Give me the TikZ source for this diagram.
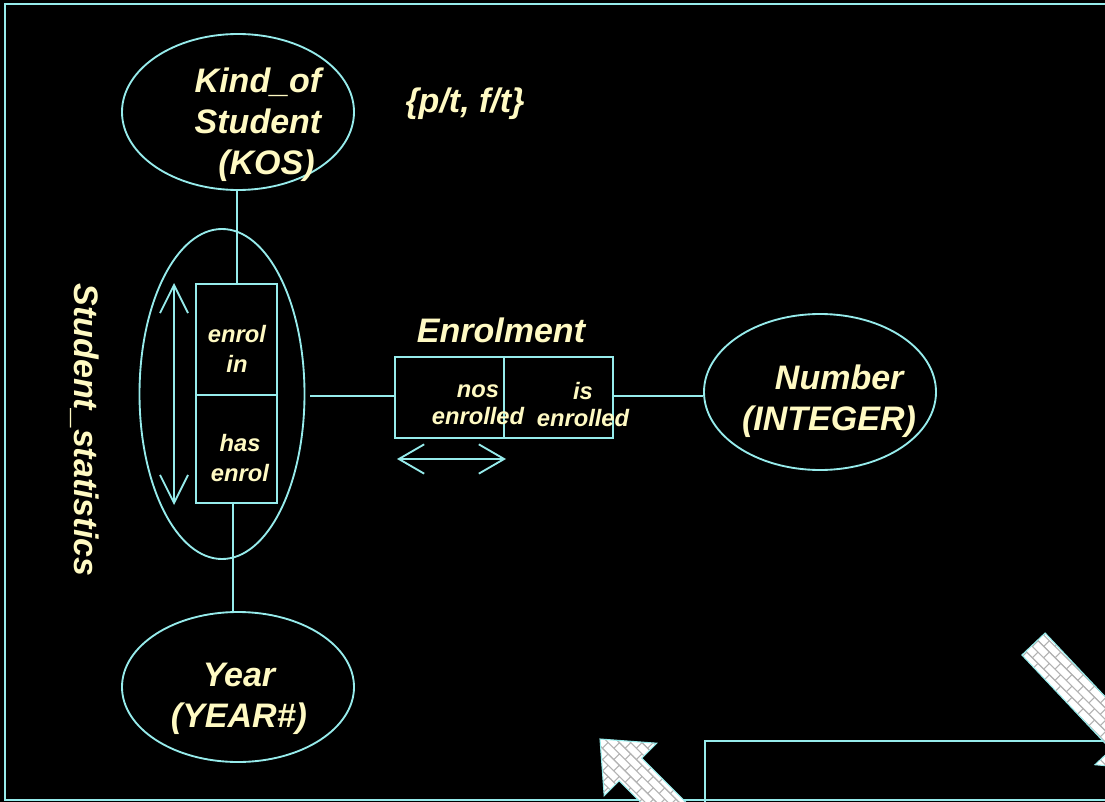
\documentclass[tikz,border=0pt]{standalone}
\usepackage{fontspec}
\setmainfont{Liberation Sans}
\usetikzlibrary{shapes.geometric,arrows.meta,patterns,patterns.meta}
\definecolor{ln}{RGB}{150,235,235}
\definecolor{tx}{RGB}{255,250,195}
\tikzdeclarepattern{
  name=rbricks,
  type=uncolored,
  bounding box={(-0.6pt,-0.6pt) and (12.6pt,12.6pt)},
  tile size={(12pt,12pt)},
  tile transformation={rotate=-45},
  code={
    \draw[line width=0.8pt] (0pt,0pt) -- (12pt,0pt) (0pt,6pt) -- (12pt,6pt) (0pt,12pt) -- (12pt,12pt)
      (3pt,0pt) -- (3pt,6pt) (9pt,6pt) -- (9pt,12pt);
  }
}
\begin{document}
\begin{tikzpicture}[x=0.75pt,y=-0.75pt,
  lne/.style={draw=ln,line width=1.4pt},
  ell/.style={ellipse,draw=ln,line width=1.4pt,inner sep=0pt},
  cell/.style={rectangle,draw=ln,line width=1.4pt,inner sep=0pt},
  big/.style={text=tx,font=\fontsize{25.5}{30.75}\selectfont\bfseries\itshape,align=center,inner sep=0pt},
  small/.style={text=tx,font=\fontsize{17.8}{22}\selectfont\bfseries\itshape,align=center,inner sep=0pt},
  blk/.style={draw=ln,line width=0.8pt,preaction={fill=white},pattern=rbricks,pattern color=gray!60},
  barb/.style={lne,{Straight Barb[length=21pt,width=21pt]}-{Straight Barb[length=21pt,width=21pt]}},
  hbarb/.style={lne,{Straight Barb[length=19pt,width=22pt]}-{Straight Barb[length=19pt,width=22pt]}}]
\useasboundingbox (0,0) rectangle (1105,802);
\fill[black] (0,0) rectangle (1105,802);
\clip (0,0) rectangle (1105,802);
% frame
\draw[lne] (1110,4) -| (5,800) -- (1110,800);
\draw[lne] (1110,741) -| (705,806);
% block arrows
\path[blk] (600,739) -- (656.6,743.2) -- (641.7,758.1) -- (712.4,828.8) -- (689.8,851.4) -- (619.1,780.7) -- (604.2,795.6) -- cycle;
\path[blk] (1021.9,655) -- (1045.1,633) -- (1134.3,727.6) -- (1150.4,712.5) -- (1152.2,769.9) -- (1095,764.7) -- (1111.1,749.6) -- cycle;
% entities
\node[ell,minimum width=174pt,minimum height=117pt] (kos) at (238,112) {};
\node[ell,minimum width=123.75pt,minimum height=247.5pt] (fact) at (222,394) {};
\node[ell,minimum width=174pt,minimum height=117pt] (num) at (820,392) {};
\node[ell,minimum width=174pt,minimum height=112.5pt] (year) at (238,687) {};
% role boxes
\node[cell,minimum width=60.75pt,minimum height=83.25pt] (enrolin) at (236.5,339.5) {};
\node[cell,minimum width=60.75pt,minimum height=81pt] (hasenrol) at (236.5,449) {};
\node[cell,minimum width=81.75pt,minimum height=60.75pt] (nos) at (449.5,397.5) {};
\node[cell,minimum width=81.75pt,minimum height=60.75pt] (isen) at (558.5,397.5) {};
% texts
\node[big] (kostxt) at (258,125) {Kind\_of\\Student\\\hspace*{0.5em}(KOS)};
\node[big] (ptft) at (465,104) {\{p/t, f/t\}};
\node[big,rotate=-90] (stat) at (85,430) {Student\_statistics};
\node[big] (enrolment) at (501,330) {Enrolment};
\node[big] (numtxt) at (829,401) {\hspace*{0.6em}Number\\(INTEGER)};
\node[big] (yeartxt) at (239,699) {Year\\(YEAR\#)};
\node[small,font=\fontsize{17.8}{22.5}\selectfont\bfseries\itshape] (t1) at (237,349) {enrol\\in};
\node[small,font=\fontsize{17.8}{22.5}\selectfont\bfseries\itshape] (t2) at (240,458) {has\\enrol};
\node[small,font=\fontsize{17.8}{20.25}\selectfont\bfseries\itshape] (t3) at (478,405) {nos\\enrolled};
\node[small,font=\fontsize{17.8}{20.25}\selectfont\bfseries\itshape] (t4) at (583,405) {is\\enrolled};
% connectors
\draw[lne] ([xshift=-0.75pt]kos.south) -- ([xshift=-0.75pt]kos.south |- enrolin.north);
\draw[lne] ([xshift=-2.6pt]hasenrol.south) -- ([xshift=-3.75pt]year.north);
\draw[lne] ([xshift=3.75pt,yshift=1.1pt]fact.east |- nos.west) -- ([yshift=1.1pt]nos.west);
\draw[lne] ([yshift=1.1pt]isen.east) -- ([yshift=1.1pt]isen.east -| num.west);
% uniqueness arrows
\coordinate (va) at (174,283);
\coordinate (vb) at (174,505);
\draw[barb] (va) -- (vb);
\coordinate (ha) at (397,459);
\coordinate (hb) at (506,459);
\draw[hbarb] (ha) -- (hb);
\end{tikzpicture}
\end{document}
